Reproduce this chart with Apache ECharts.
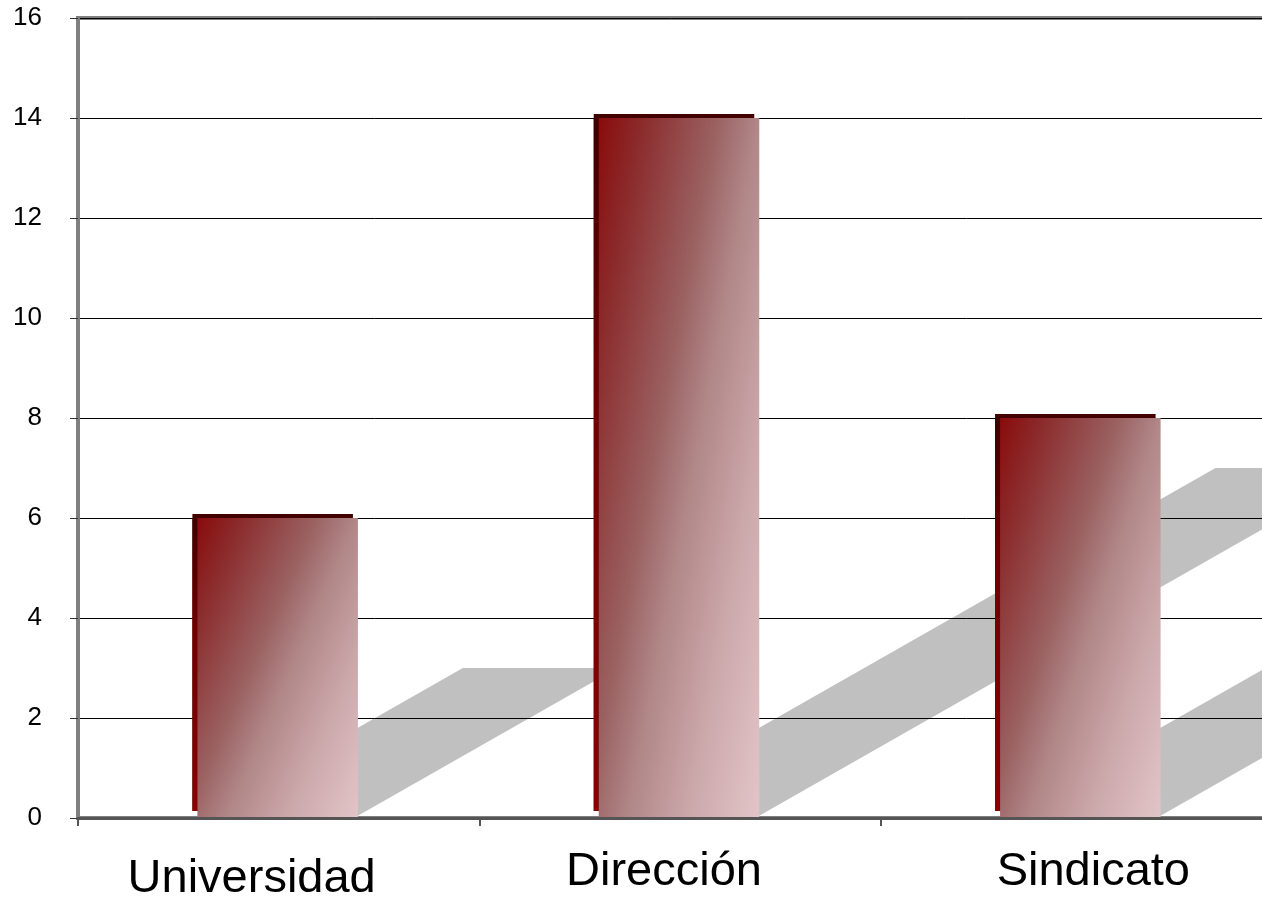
<!DOCTYPE html>
<html>
<head>
<meta charset="utf-8">
<script src="https://cdn.jsdelivr.net/npm/echarts@6/dist/echarts.min.js"></script>
<style>
html,body{margin:0;padding:0;background:#fff;}
#chart{width:1262px;height:900px;}
</style>
</head>
<body>
<div id="chart"></div>
<script>
// ---- data ----
const categories = ['Universidad', 'Dirección', 'Sindicato'];
const values = [6, 14, 8];
const yMin = 0;
const yMax = 16;
const yInterval = 2;

// ---- style constants ----
const FONT = '"Liberation Sans", Arial, sans-serif';
const BAR_RATIO = 0.4;            // bar width as share of the category band
const SHADOW_RISE_PER_CAT = 4.57; // shadow slope in value units per category
const GRAD_U = 0.55, GRAD_V = 0.45; // gradient weights along bar width / height

const chart = echarts.init(document.getElementById('chart'));

const edgeGradient = new echarts.graphic.LinearGradient(0, 0, 0, 1, [
  { offset: 0, color: '#3e0000' },
  { offset: 0.35, color: '#6e0000' },
  { offset: 1, color: '#8b0000' }
]);

function frontGradient(x, y, w, h) {
  const gx = GRAD_U / w, gy = GRAD_V / h;
  const n = gx * gx + gy * gy;
  const dx = gx / n, dy = gy / n;
  return new echarts.graphic.LinearGradient(x, y, x + dx, y + dy, [
    { offset: 0, color: '#8a0b0b' },
    { offset: 0.15, color: '#8b2b2c' },
    { offset: 0.4, color: '#9a6060' },
    { offset: 0.55, color: '#b18788' },
    { offset: 0.75, color: '#cba7a9' },
    { offset: 1, color: '#e2c5c9' }
  ], true);
}

function barGeom(api) {
  const i = api.value(0), v = api.value(1);
  const base = api.coord([i, 0]);
  const top = api.coord([i, v]);
  const band = api.size([1, 0])[0];
  const w = band * BAR_RATIO;
  return { i, v, base, top, band, w, x: base[0] - w / 2 - 1 };
}

const seriesData = values.map((v, i) => [i, v]);

const option = {
  backgroundColor: '#ffffff',
  animation: false,
  grid: {
    left: 78, right: -20, top: 18, bottom: 82,
    outerBoundsMode: 'none',
    containLabel: false,
    show: true, borderColor: '#808080', borderWidth: 4, backgroundColor: 'transparent', z: 1
  },
  xAxis: {
    type: 'category',
    data: categories,
    z: 4,
    boundaryGap: true,
    axisLine: { show: true, lineStyle: { color: '#555555', width: 3 } },
    axisTick: { show: true, interval: 0, length: 8, lineStyle: { color: '#555555', width: 2 } },
    splitLine: { show: false },
    axisLabel: {
      interval: 0,
      hideOverlap: false,
      margin: 31,
      color: '#000',
      fontFamily: FONT,
      fontSize: 47,
      formatter: function (val) {
        const k = categories.indexOf(val);
        return '{c' + k + '|' + val + '}';
      },
      rich: {
        c0: { fontSize: 47, fontFamily: FONT, color: '#000', padding: [7, 54, 0, 0] },
        c1: { fontSize: 47, fontFamily: FONT, color: '#000', padding: [0, 32, 0, 0] },
        c2: { fontSize: 47, fontFamily: FONT, color: '#000', padding: [0, 0, 0, 24] }
      }
    }
  },
  yAxis: {
    type: 'value',
    min: yMin, max: yMax, interval: yInterval,
    z: 1,
    axisLine: { show: true, lineStyle: { color: '#808080', width: 3 } },
    axisTick: { show: true, length: 8, lineStyle: { color: '#333333', width: 1 } },
    splitLine: { show: true, lineStyle: { color: '#000000', width: 1 } },
    axisLabel: { margin: 36, color: '#000', fontFamily: FONT, fontSize: 26, padding: [7, 0, 0, 0] }
  },
  series: [
    {
      name: 'sombra',
      type: 'custom',
      z: 0,
      silent: true,
      clip: false,
      data: seriesData,
      renderItem: function (params, api) {
        const g = barGeom(api);
        const half = g.v / 2;
        const h = api.coord([g.i, half]);
        const dx = (half / SHADOW_RISE_PER_CAT) * g.band;
        const xl = g.x + 2, xr = g.x + g.w - 4;
        return {
          type: 'polygon',
          shape: { points: [[xl, g.base[1]], [xr, g.base[1]], [xr + dx, h[1]], [xl + dx, h[1]]] },
          style: { fill: '#c0c0c0' }
        };
      }
    },
    {
      name: 'valor',
      type: 'custom',
      z: 3,
      clip: false,
      data: seriesData,
      renderItem: function (params, api) {
        const g = barGeom(api);
        const backTop = g.top[1] - 4;
        const backBottom = g.base[1] - 7;
        const fh = g.base[1] - g.top[1];
        return {
          type: 'group',
          children: [
            { type: 'rect', shape: { x: g.x - 5, y: backTop, width: g.w, height: backBottom - backTop }, style: { fill: '#420000' } },
            { type: 'rect', shape: { x: g.x - 5, y: backTop + 4, width: 5, height: backBottom - backTop - 4 }, style: { fill: edgeGradient } },
            { type: 'rect', shape: { x: g.x, y: g.top[1], width: g.w, height: fh }, style: { fill: frontGradient(g.x, g.top[1], g.w, fh) } }
          ]
        };
      }
    }
  ]
};
chart.setOption(option);
</script>
</body>
</html>
